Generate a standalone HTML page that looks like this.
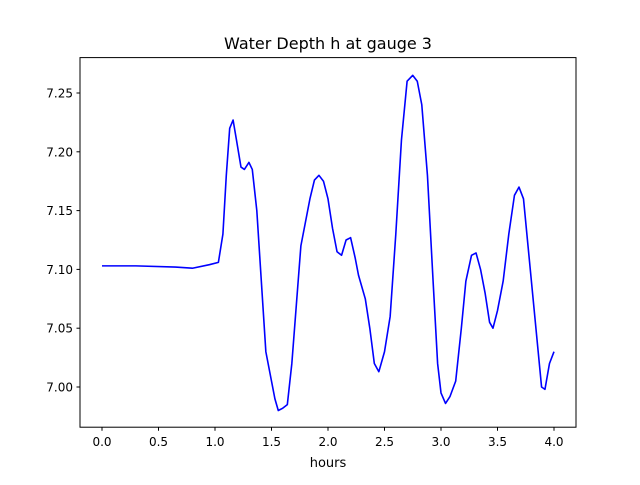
<!DOCTYPE html>
<html><head><meta charset="utf-8"><style>
body{margin:0;background:#fff}
text{font-family:"DejaVu Sans","Liberation Sans",sans-serif;fill:#000}
</style></head><body>
<svg id="chart" width="640" height="480" xmlns="http://www.w3.org/2000/svg">
<rect width="640" height="480" fill="#fff"/>
<text x="328" y="49" font-size="16" text-anchor="middle">Water Depth h at gauge 3</text>
<g id="ticks"></g>
<polyline id="line" fill="none" stroke="#0000ff" stroke-width="1.6" stroke-linejoin="round"/>
<rect x="80" y="57.6" width="496" height="369.6" fill="none" stroke="#000" stroke-width="1"/>
<text x="328" y="467" font-size="13" text-anchor="middle">hours</text>
</svg>
<script>
const hours=[0,0.3,0.65,0.8,0.95,1.03,1.07,1.1,1.13,1.16,1.19,1.23,1.26,1.3,1.33,1.37,1.41,1.45,1.5,1.53,1.56,1.6,1.64,1.68,1.72,1.76,1.8,1.84,1.88,1.92,1.96,2.0,2.04,2.08,2.12,2.16,2.2,2.24,2.27,2.33,2.37,2.41,2.45,2.5,2.55,2.6,2.65,2.7,2.75,2.79,2.83,2.88,2.93,2.97,3.0,3.04,3.08,3.13,3.18,3.22,3.27,3.31,3.35,3.39,3.43,3.46,3.5,3.55,3.6,3.65,3.69,3.73,3.77,3.82,3.86,3.89,3.92,3.96,4.0];
const depth=[7.103,7.103,7.102,7.101,7.104,7.106,7.13,7.18,7.22,7.227,7.21,7.187,7.185,7.191,7.185,7.15,7.09,7.03,7.005,6.99,6.98,6.982,6.985,7.02,7.07,7.12,7.14,7.16,7.176,7.18,7.175,7.16,7.135,7.115,7.112,7.125,7.127,7.11,7.095,7.075,7.05,7.02,7.013,7.03,7.06,7.13,7.21,7.26,7.265,7.26,7.24,7.18,7.09,7.02,6.995,6.986,6.992,7.005,7.05,7.09,7.112,7.114,7.1,7.08,7.055,7.05,7.065,7.09,7.13,7.163,7.17,7.16,7.12,7.07,7.03,7.0,6.998,7.02,7.03];
const xTicks=[0,0.5,1,1.5,2,2.5,3,3.5,4];
const xTickLabels=["0.0","0.5","1.0","1.5","2.0","2.5","3.0","3.5","4.0"];
const yTicks=[7.00,7.05,7.10,7.15,7.20,7.25];
const yTickLabels=["7.00","7.05","7.10","7.15","7.20","7.25"];
const X=v=>102+v*113;
const Y=v=>387-(v-7.0)*1176;
const ns="http://www.w3.org/2000/svg";
const g=document.getElementById('ticks');
function mk(t,a){const e=document.createElementNS(ns,t);for(const k in a)e.setAttribute(k,a[k]);g.appendChild(e);return e;}
xTicks.forEach((v,i)=>{
  const l=mk('line',{x1:X(v),x2:X(v),y1:427.2,y2:430.7,stroke:'#000'});
  
  
  const t=mk('text',{x:X(v),y:446,'font-size':'12','text-anchor':'middle'});
  t.textContent=xTickLabels[i];
  
  
});
yTicks.forEach((v,i)=>{
  const l=mk('line',{x1:76.5,x2:80,y1:Y(v),y2:Y(v),stroke:'#000'});
  
  
  const t=mk('text',{x:73,y:Y(v)+4.5,'font-size':'12','text-anchor':'end'});
  t.textContent=yTickLabels[i];
  
  
});
document.getElementById('line').setAttribute('points',hours.map((h,i)=>X(h)+','+Y(depth[i])).join(' '));
</script>
</body></html>
